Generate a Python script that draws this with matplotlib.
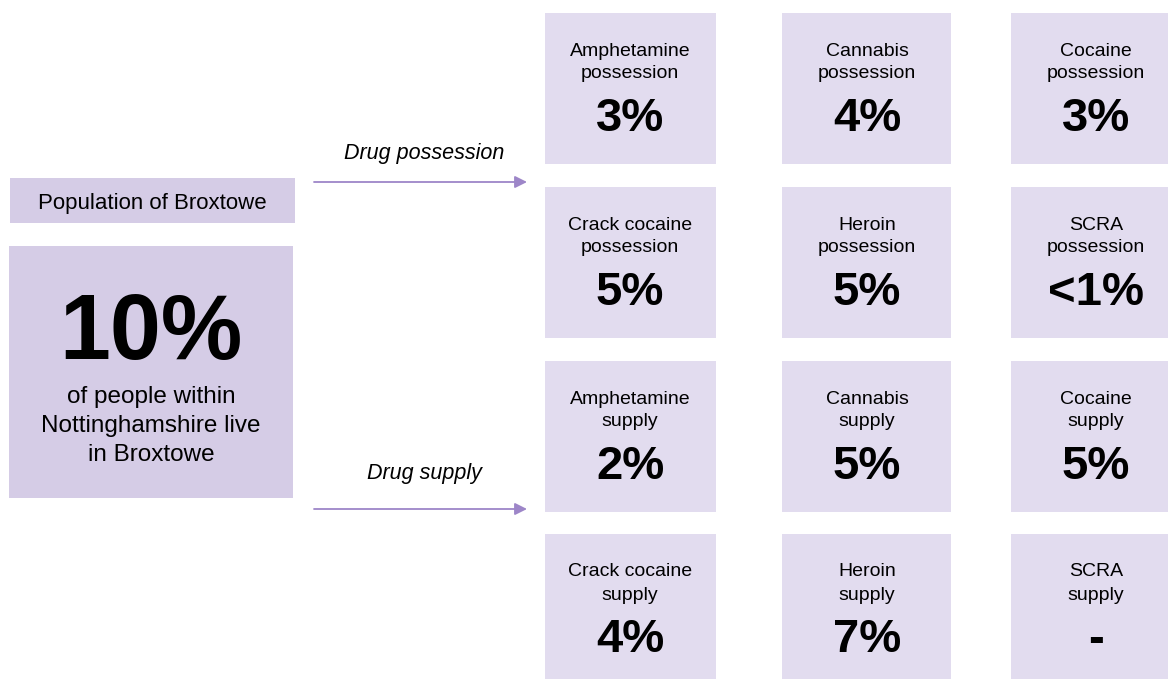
import matplotlib.pyplot as plt
from matplotlib.patches import Rectangle

plt.rcParams['font.family'] = ['Liberation Sans', 'DejaVu Sans']

# offence categories, laid out row by row (3 per row)
drugs = ['Amphetamine', 'Cannabis', 'Cocaine', 'Crack cocaine', 'Heroin', 'SCRA']
possession = ['3%', '4%', '3%', '5%', '5%', '<1%']
supply = ['2%', '5%', '5%', '4%', '7%', '-']
broxtowe_share = '10%'

dark = '#d5cce6'
light = '#e2dcef'
arrow_col = '#9d86c8'

fig = plt.figure(figsize=(11.7, 6.79), dpi=100)
ax = fig.add_axes([0, 0, 1, 1])
ax.set_xlim(0, 1170)
ax.set_ylim(679, 0)
ax.axis('off')

# left hand panel
ax.add_patch(Rectangle((10, 178), 285, 45, color=dark, lw=0))
ax.text(152, 204, 'Population of Broxtowe', fontsize=16, ha='center', va='center')
ax.add_patch(Rectangle((9, 246), 284, 252, color=dark, lw=0))
ax.text(151, 335, broxtowe_share, fontsize=66, fontweight='bold', ha='center', va='center')
for i, line in enumerate(['of people within', 'Nottinghamshire live', 'in Broxtowe']):
    ax.text(151, 397 + i * 29, line, fontsize=17.5, ha='center', va='center')

# arrows into the two groups
for y, ly, label in [(182, 153, 'Drug possession'), (509, 474, 'Drug supply')]:
    ax.annotate('', xy=(527, y), xytext=(314, y),
                arrowprops=dict(arrowstyle='-|>', color=arrow_col, lw=1.3,
                                mutation_scale=18, shrinkA=0, shrinkB=0))
    ax.text(424, ly, label, fontsize=15.5, style='italic', ha='center', va='center')

# grid of boxes (last column runs to the edge, text stays on a 170px pitch)
col_x = [(545, 716), (782, 951), (1011, 1168)]
row_y = [(13, 164), (187, 338), (361, 512), (534, 679)]

groups = [('possession', possession), ('supply', supply)]
for g, (kind, values) in enumerate(groups):
    for k, drug in enumerate(drugs):
        r = g * 2 + k // 3
        c = k % 3
        x0, x1 = col_x[c]
        y0, y1 = row_y[r]
        ax.add_patch(Rectangle((x0, y0), x1 - x0, y1 - y0, color=light, lw=0))
        cx = x0 + 85
        ax.text(cx, y0 + 38, drug, fontsize=14, ha='center', va='center')
        ax.text(cx, y0 + 61, kind, fontsize=14, ha='center', va='center')
        ax.text(cx, y0 + 106, values[k], fontsize=34, fontweight='bold',
                ha='center', va='center')

fig.savefig('out.png', dpi=100)
